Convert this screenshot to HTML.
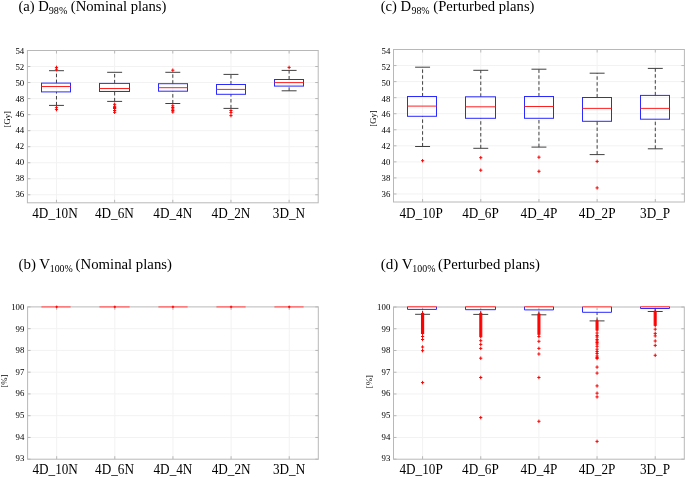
<!DOCTYPE html>
<html><head><meta charset="utf-8"><style>
html,body{margin:0;padding:0;background:#fff;}
svg{display:block;}
text{font-family:"Liberation Serif", serif;fill:#000;filter:grayscale(1);}
</style></head><body>
<svg width="685" height="477" viewBox="0 0 685 477" stroke-width="1">
<rect width="685" height="477" fill="#fff"/>
<line x1="27.4" y1="194.78" x2="318.2" y2="194.78" stroke="#f2f2f2"/>
<line x1="27.4" y1="178.75" x2="318.2" y2="178.75" stroke="#f2f2f2"/>
<line x1="27.4" y1="162.72" x2="318.2" y2="162.72" stroke="#f2f2f2"/>
<line x1="27.4" y1="146.69" x2="318.2" y2="146.69" stroke="#f2f2f2"/>
<line x1="27.4" y1="130.66" x2="318.2" y2="130.66" stroke="#f2f2f2"/>
<line x1="27.4" y1="114.63" x2="318.2" y2="114.63" stroke="#f2f2f2"/>
<line x1="27.4" y1="98.59" x2="318.2" y2="98.59" stroke="#f2f2f2"/>
<line x1="27.4" y1="82.56" x2="318.2" y2="82.56" stroke="#f2f2f2"/>
<line x1="27.4" y1="66.53" x2="318.2" y2="66.53" stroke="#f2f2f2"/>
<line x1="56.48" y1="50.5" x2="56.48" y2="202.8" stroke="#f2f2f2"/>
<line x1="114.64" y1="50.5" x2="114.64" y2="202.8" stroke="#f2f2f2"/>
<line x1="172.80" y1="50.5" x2="172.80" y2="202.8" stroke="#f2f2f2"/>
<line x1="230.96" y1="50.5" x2="230.96" y2="202.8" stroke="#f2f2f2"/>
<line x1="289.12" y1="50.5" x2="289.12" y2="202.8" stroke="#f2f2f2"/>
<path d="M27.4,194.78h3M318.2,194.78h-3" stroke="#b8b8b8"/>
<path d="M27.4,178.75h3M318.2,178.75h-3" stroke="#b8b8b8"/>
<path d="M27.4,162.72h3M318.2,162.72h-3" stroke="#b8b8b8"/>
<path d="M27.4,146.69h3M318.2,146.69h-3" stroke="#b8b8b8"/>
<path d="M27.4,130.66h3M318.2,130.66h-3" stroke="#b8b8b8"/>
<path d="M27.4,114.63h3M318.2,114.63h-3" stroke="#b8b8b8"/>
<path d="M27.4,98.59h3M318.2,98.59h-3" stroke="#b8b8b8"/>
<path d="M27.4,82.56h3M318.2,82.56h-3" stroke="#b8b8b8"/>
<path d="M27.4,66.53h3M318.2,66.53h-3" stroke="#b8b8b8"/>
<path d="M27.4,50.50h3M318.2,50.50h-3" stroke="#b8b8b8"/>
<path d="M56.48,202.8v-3M56.48,50.5v3" stroke="#b8b8b8"/>
<path d="M114.64,202.8v-3M114.64,50.5v3" stroke="#b8b8b8"/>
<path d="M172.80,202.8v-3M172.80,50.5v3" stroke="#b8b8b8"/>
<path d="M230.96,202.8v-3M230.96,50.5v3" stroke="#b8b8b8"/>
<path d="M289.12,202.8v-3M289.12,50.5v3" stroke="#b8b8b8"/>
<rect x="27.4" y="50.5" width="290.80" height="152.30" fill="none" stroke="#b8b8b8"/>
<text x="24.20" y="196.88" text-anchor="end" font-size="8.8">36</text>
<text x="24.20" y="180.99" text-anchor="end" font-size="8.8">38</text>
<text x="24.20" y="165.10" text-anchor="end" font-size="8.8">40</text>
<text x="24.20" y="149.21" text-anchor="end" font-size="8.8">42</text>
<text x="24.20" y="133.32" text-anchor="end" font-size="8.8">44</text>
<text x="24.20" y="117.44" text-anchor="end" font-size="8.8">46</text>
<text x="24.20" y="101.55" text-anchor="end" font-size="8.8">48</text>
<text x="24.20" y="85.66" text-anchor="end" font-size="8.8">50</text>
<text x="24.20" y="69.77" text-anchor="end" font-size="8.8">52</text>
<text x="24.20" y="53.88" text-anchor="end" font-size="8.8">54</text>
<text transform="translate(54.98,217.60) scale(1,1.045)" text-anchor="middle" font-size="13.2">4D_10N</text>
<text transform="translate(114.34,217.60) scale(1,1.045)" text-anchor="middle" font-size="13.2">4D_6N</text>
<text transform="translate(172.80,217.60) scale(1,1.045)" text-anchor="middle" font-size="13.2">4D_4N</text>
<text transform="translate(230.96,217.60) scale(1,1.045)" text-anchor="middle" font-size="13.2">4D_2N</text>
<text transform="translate(288.92,217.60) scale(1,1.045)" text-anchor="middle" font-size="13.2">3D_N</text>
<text x="0" y="0" transform="translate(9.5,119.3) rotate(-90)" text-anchor="middle" font-size="8.7">[Gy]</text>
<path d="M56.48,83.10V70.70" stroke="#404040" stroke-dasharray="3.5 2.4" fill="none"/>
<path d="M56.48,105.40V91.90" stroke="#404040" stroke-dasharray="3.5 2.4" fill="none"/>
<path d="M49.01,70.70h14.94M49.01,105.40h14.94" stroke="#404040"/>
<rect x="41.50" y="83.10" width="29.00" height="8.80" fill="none" stroke="#2a2aff"/>
<line x1="41.50" y1="86.50" x2="70.50" y2="86.50" stroke="#ff2020"/>
<path d="M54.88,67.40h3.20M56.48,65.70v3.40M54.88,69.20h3.20M56.48,67.50v3.40M54.88,107.70h3.20M56.48,106.00v3.40M54.88,109.60h3.20M56.48,107.90v3.40" stroke="#ff0000"/>
<path d="M114.64,83.40V72.30" stroke="#404040" stroke-dasharray="3.5 2.4" fill="none"/>
<path d="M114.64,101.40V91.50" stroke="#404040" stroke-dasharray="3.5 2.4" fill="none"/>
<path d="M107.17,72.30h14.94M107.17,101.40h14.94" stroke="#404040"/>
<rect x="99.50" y="83.40" width="30.00" height="8.10" fill="none" stroke="#2a2aff"/>
<line x1="99.50" y1="88.50" x2="129.50" y2="88.50" stroke="#ff2020"/>
<path d="M113.04,104.30h3.20M114.64,102.60v3.40M113.04,106.30h3.20M114.64,104.60v3.40M113.04,107.50h3.20M114.64,105.80v3.40M113.04,108.50h3.20M114.64,106.80v3.40M113.04,110.50h3.20M114.64,108.80v3.40M113.04,112.30h3.20M114.64,110.60v3.40" stroke="#ff0000"/>
<path d="M172.80,83.70V72.30" stroke="#404040" stroke-dasharray="3.5 2.4" fill="none"/>
<path d="M172.80,103.50V91.20" stroke="#404040" stroke-dasharray="3.5 2.4" fill="none"/>
<path d="M165.33,72.30h14.94M165.33,103.50h14.94" stroke="#404040"/>
<rect x="158.50" y="83.70" width="29.00" height="7.50" fill="none" stroke="#2a2aff"/>
<line x1="158.50" y1="87.70" x2="187.50" y2="87.70" stroke="#ff2020"/>
<path d="M171.20,70.20h3.20M172.80,68.50v3.40M171.20,105.80h3.20M172.80,104.10v3.40M171.20,107.50h3.20M172.80,105.80v3.40M171.20,109.00h3.20M172.80,107.30v3.40M171.20,110.50h3.20M172.80,108.80v3.40M171.20,112.00h3.20M172.80,110.30v3.40" stroke="#ff0000"/>
<path d="M230.96,84.50V74.40" stroke="#404040" stroke-dasharray="3.5 2.4" fill="none"/>
<path d="M230.96,108.40V94.30" stroke="#404040" stroke-dasharray="3.5 2.4" fill="none"/>
<path d="M223.49,74.40h14.94M223.49,108.40h14.94" stroke="#404040"/>
<rect x="216.50" y="84.50" width="29.00" height="9.80" fill="none" stroke="#2a2aff"/>
<line x1="216.50" y1="89.40" x2="245.50" y2="89.40" stroke="#ff2020"/>
<path d="M229.36,110.50h3.20M230.96,108.80v3.40M229.36,112.60h3.20M230.96,110.90v3.40M229.36,115.60h3.20M230.96,113.90v3.40" stroke="#ff0000"/>
<path d="M289.12,79.50V70.40" stroke="#404040" stroke-dasharray="3.5 2.4" fill="none"/>
<path d="M289.12,90.80V86.10" stroke="#404040" stroke-dasharray="3.5 2.4" fill="none"/>
<path d="M281.65,70.40h14.94M281.65,90.80h14.94" stroke="#404040"/>
<rect x="274.50" y="79.50" width="29.00" height="6.60" fill="none" stroke="#2a2aff"/>
<line x1="274.50" y1="82.60" x2="303.50" y2="82.60" stroke="#ff2020"/>
<path d="M287.52,67.40h3.20M289.12,65.70v3.40" stroke="#ff0000"/>
<text x="18.44" y="10.90" font-size="14.4" textLength="30.44" lengthAdjust="spacingAndGlyphs">(a) D</text>
<text x="48.77" y="13.70" font-size="9.5" textLength="18.56" lengthAdjust="spacingAndGlyphs">98%</text>
<text x="70.84" y="10.90" font-size="14.4" textLength="95.60" lengthAdjust="spacingAndGlyphs">(Nominal plans)</text>
<line x1="393.5" y1="193.97" x2="684.4" y2="193.97" stroke="#f2f2f2"/>
<line x1="393.5" y1="177.92" x2="684.4" y2="177.92" stroke="#f2f2f2"/>
<line x1="393.5" y1="161.87" x2="684.4" y2="161.87" stroke="#f2f2f2"/>
<line x1="393.5" y1="145.82" x2="684.4" y2="145.82" stroke="#f2f2f2"/>
<line x1="393.5" y1="129.76" x2="684.4" y2="129.76" stroke="#f2f2f2"/>
<line x1="393.5" y1="113.71" x2="684.4" y2="113.71" stroke="#f2f2f2"/>
<line x1="393.5" y1="97.66" x2="684.4" y2="97.66" stroke="#f2f2f2"/>
<line x1="393.5" y1="81.61" x2="684.4" y2="81.61" stroke="#f2f2f2"/>
<line x1="393.5" y1="65.55" x2="684.4" y2="65.55" stroke="#f2f2f2"/>
<line x1="422.59" y1="49.5" x2="422.59" y2="202.0" stroke="#f2f2f2"/>
<line x1="480.77" y1="49.5" x2="480.77" y2="202.0" stroke="#f2f2f2"/>
<line x1="538.95" y1="49.5" x2="538.95" y2="202.0" stroke="#f2f2f2"/>
<line x1="597.13" y1="49.5" x2="597.13" y2="202.0" stroke="#f2f2f2"/>
<line x1="655.31" y1="49.5" x2="655.31" y2="202.0" stroke="#f2f2f2"/>
<path d="M393.5,193.97h3M684.4,193.97h-3" stroke="#b8b8b8"/>
<path d="M393.5,177.92h3M684.4,177.92h-3" stroke="#b8b8b8"/>
<path d="M393.5,161.87h3M684.4,161.87h-3" stroke="#b8b8b8"/>
<path d="M393.5,145.82h3M684.4,145.82h-3" stroke="#b8b8b8"/>
<path d="M393.5,129.76h3M684.4,129.76h-3" stroke="#b8b8b8"/>
<path d="M393.5,113.71h3M684.4,113.71h-3" stroke="#b8b8b8"/>
<path d="M393.5,97.66h3M684.4,97.66h-3" stroke="#b8b8b8"/>
<path d="M393.5,81.61h3M684.4,81.61h-3" stroke="#b8b8b8"/>
<path d="M393.5,65.55h3M684.4,65.55h-3" stroke="#b8b8b8"/>
<path d="M393.5,49.50h3M684.4,49.50h-3" stroke="#b8b8b8"/>
<path d="M422.59,202.0v-3M422.59,49.5v3" stroke="#b8b8b8"/>
<path d="M480.77,202.0v-3M480.77,49.5v3" stroke="#b8b8b8"/>
<path d="M538.95,202.0v-3M538.95,49.5v3" stroke="#b8b8b8"/>
<path d="M597.13,202.0v-3M597.13,49.5v3" stroke="#b8b8b8"/>
<path d="M655.31,202.0v-3M655.31,49.5v3" stroke="#b8b8b8"/>
<rect x="393.5" y="49.5" width="290.90" height="152.50" fill="none" stroke="#b8b8b8"/>
<text x="390.30" y="196.88" text-anchor="end" font-size="8.8">36</text>
<text x="390.30" y="180.99" text-anchor="end" font-size="8.8">38</text>
<text x="390.30" y="165.10" text-anchor="end" font-size="8.8">40</text>
<text x="390.30" y="149.21" text-anchor="end" font-size="8.8">42</text>
<text x="390.30" y="133.32" text-anchor="end" font-size="8.8">44</text>
<text x="390.30" y="117.44" text-anchor="end" font-size="8.8">46</text>
<text x="390.30" y="101.55" text-anchor="end" font-size="8.8">48</text>
<text x="390.30" y="85.66" text-anchor="end" font-size="8.8">50</text>
<text x="390.30" y="69.77" text-anchor="end" font-size="8.8">52</text>
<text x="390.30" y="53.88" text-anchor="end" font-size="8.8">54</text>
<text transform="translate(421.09,217.60) scale(1,1.045)" text-anchor="middle" font-size="13.2">4D_10P</text>
<text transform="translate(480.47,217.60) scale(1,1.045)" text-anchor="middle" font-size="13.2">4D_6P</text>
<text transform="translate(538.95,217.60) scale(1,1.045)" text-anchor="middle" font-size="13.2">4D_4P</text>
<text transform="translate(597.13,217.60) scale(1,1.045)" text-anchor="middle" font-size="13.2">4D_2P</text>
<text transform="translate(655.11,217.60) scale(1,1.045)" text-anchor="middle" font-size="13.2">3D_P</text>
<text x="0" y="0" transform="translate(376,118.5) rotate(-90)" text-anchor="middle" font-size="8.7">[Gy]</text>
<path d="M422.59,96.50V67.20" stroke="#404040" stroke-dasharray="3.5 2.4" fill="none"/>
<path d="M422.59,146.50V116.30" stroke="#404040" stroke-dasharray="3.5 2.4" fill="none"/>
<path d="M415.12,67.20h14.94M415.12,146.50h14.94" stroke="#404040"/>
<rect x="407.50" y="96.50" width="29.00" height="19.80" fill="none" stroke="#2a2aff"/>
<line x1="407.50" y1="106.10" x2="436.50" y2="106.10" stroke="#ff2020"/>
<path d="M420.99,160.70h3.20M422.59,159.00v3.40" stroke="#ff0000"/>
<path d="M480.77,96.80V70.30" stroke="#404040" stroke-dasharray="3.5 2.4" fill="none"/>
<path d="M480.77,148.30V118.30" stroke="#404040" stroke-dasharray="3.5 2.4" fill="none"/>
<path d="M473.30,70.30h14.94M473.30,148.30h14.94" stroke="#404040"/>
<rect x="465.50" y="96.80" width="30.00" height="21.50" fill="none" stroke="#2a2aff"/>
<line x1="465.50" y1="106.80" x2="495.50" y2="106.80" stroke="#ff2020"/>
<path d="M479.17,157.70h3.20M480.77,156.00v3.40M479.17,170.20h3.20M480.77,168.50v3.40" stroke="#ff0000"/>
<path d="M538.95,96.50V69.20" stroke="#404040" stroke-dasharray="3.5 2.4" fill="none"/>
<path d="M538.95,147.10V118.30" stroke="#404040" stroke-dasharray="3.5 2.4" fill="none"/>
<path d="M531.48,69.20h14.94M531.48,147.10h14.94" stroke="#404040"/>
<rect x="524.50" y="96.50" width="29.00" height="21.80" fill="none" stroke="#2a2aff"/>
<line x1="524.50" y1="106.50" x2="553.50" y2="106.50" stroke="#ff2020"/>
<path d="M537.35,157.20h3.20M538.95,155.50v3.40M537.35,171.30h3.20M538.95,169.60v3.40" stroke="#ff0000"/>
<path d="M597.13,97.50V73.20" stroke="#404040" stroke-dasharray="3.5 2.4" fill="none"/>
<path d="M597.13,154.60V121.30" stroke="#404040" stroke-dasharray="3.5 2.4" fill="none"/>
<path d="M589.66,73.20h14.94M589.66,154.60h14.94" stroke="#404040"/>
<rect x="582.50" y="97.50" width="29.00" height="23.80" fill="none" stroke="#2a2aff"/>
<line x1="582.50" y1="108.40" x2="611.50" y2="108.40" stroke="#ff2020"/>
<path d="M595.53,161.40h3.20M597.13,159.70v3.40M595.53,187.90h3.20M597.13,186.20v3.40" stroke="#ff0000"/>
<path d="M655.31,95.40V68.40" stroke="#404040" stroke-dasharray="3.5 2.4" fill="none"/>
<path d="M655.31,148.80V119.20" stroke="#404040" stroke-dasharray="3.5 2.4" fill="none"/>
<path d="M647.84,68.40h14.94M647.84,148.80h14.94" stroke="#404040"/>
<rect x="640.50" y="95.40" width="29.00" height="23.80" fill="none" stroke="#2a2aff"/>
<line x1="640.50" y1="108.40" x2="669.50" y2="108.40" stroke="#ff2020"/>
<text x="380.74" y="10.90" font-size="14.4" textLength="30.44" lengthAdjust="spacingAndGlyphs">(c) D</text>
<text x="411.48" y="13.70" font-size="9.5" textLength="18.15" lengthAdjust="spacingAndGlyphs">98%</text>
<text x="433.34" y="10.90" font-size="14.4" textLength="101.18" lengthAdjust="spacingAndGlyphs">(Perturbed plans)</text>
<line x1="27.6" y1="437.44" x2="318.3" y2="437.44" stroke="#f2f2f2"/>
<line x1="27.6" y1="415.69" x2="318.3" y2="415.69" stroke="#f2f2f2"/>
<line x1="27.6" y1="393.93" x2="318.3" y2="393.93" stroke="#f2f2f2"/>
<line x1="27.6" y1="372.17" x2="318.3" y2="372.17" stroke="#f2f2f2"/>
<line x1="27.6" y1="350.41" x2="318.3" y2="350.41" stroke="#f2f2f2"/>
<line x1="27.6" y1="328.66" x2="318.3" y2="328.66" stroke="#f2f2f2"/>
<line x1="56.67" y1="306.9" x2="56.67" y2="459.2" stroke="#f2f2f2"/>
<line x1="114.81" y1="306.9" x2="114.81" y2="459.2" stroke="#f2f2f2"/>
<line x1="172.95" y1="306.9" x2="172.95" y2="459.2" stroke="#f2f2f2"/>
<line x1="231.09" y1="306.9" x2="231.09" y2="459.2" stroke="#f2f2f2"/>
<line x1="289.23" y1="306.9" x2="289.23" y2="459.2" stroke="#f2f2f2"/>
<path d="M27.6,459.20h3M318.3,459.20h-3" stroke="#b8b8b8"/>
<path d="M27.6,437.44h3M318.3,437.44h-3" stroke="#b8b8b8"/>
<path d="M27.6,415.69h3M318.3,415.69h-3" stroke="#b8b8b8"/>
<path d="M27.6,393.93h3M318.3,393.93h-3" stroke="#b8b8b8"/>
<path d="M27.6,372.17h3M318.3,372.17h-3" stroke="#b8b8b8"/>
<path d="M27.6,350.41h3M318.3,350.41h-3" stroke="#b8b8b8"/>
<path d="M27.6,328.66h3M318.3,328.66h-3" stroke="#b8b8b8"/>
<path d="M27.6,306.90h3M318.3,306.90h-3" stroke="#b8b8b8"/>
<path d="M56.67,459.2v-3M56.67,306.9v3" stroke="#b8b8b8"/>
<path d="M114.81,459.2v-3M114.81,306.9v3" stroke="#b8b8b8"/>
<path d="M172.95,459.2v-3M172.95,306.9v3" stroke="#b8b8b8"/>
<path d="M231.09,459.2v-3M231.09,306.9v3" stroke="#b8b8b8"/>
<path d="M289.23,459.2v-3M289.23,306.9v3" stroke="#b8b8b8"/>
<rect x="27.6" y="306.9" width="290.70" height="152.30" fill="none" stroke="#b8b8b8"/>
<text x="24.40" y="461.18" text-anchor="end" font-size="8.8">93</text>
<text x="24.40" y="439.59" text-anchor="end" font-size="8.8">94</text>
<text x="24.40" y="418.01" text-anchor="end" font-size="8.8">95</text>
<text x="24.40" y="396.42" text-anchor="end" font-size="8.8">96</text>
<text x="24.40" y="374.84" text-anchor="end" font-size="8.8">97</text>
<text x="24.40" y="353.25" text-anchor="end" font-size="8.8">98</text>
<text x="24.40" y="331.67" text-anchor="end" font-size="8.8">99</text>
<text x="24.40" y="310.08" text-anchor="end" font-size="8.8">100</text>
<text transform="translate(55.17,474.00) scale(1,1.045)" text-anchor="middle" font-size="13.2">4D_10N</text>
<text transform="translate(114.51,474.00) scale(1,1.045)" text-anchor="middle" font-size="13.2">4D_6N</text>
<text transform="translate(172.95,474.00) scale(1,1.045)" text-anchor="middle" font-size="13.2">4D_4N</text>
<text transform="translate(231.09,474.00) scale(1,1.045)" text-anchor="middle" font-size="13.2">4D_2N</text>
<text transform="translate(289.03,474.00) scale(1,1.045)" text-anchor="middle" font-size="13.2">3D_N</text>
<text x="0" y="0" transform="translate(7.2,381.1) rotate(-90)" text-anchor="middle" font-size="8.7">[%]</text>
<line x1="42.10" y1="306.90" x2="69.90" y2="306.90" stroke="#fff" stroke-width="1.4"/>
<line x1="41.50" y1="306.90" x2="70.50" y2="306.90" stroke="#ff3c3c" stroke-width="1.1"/>
<path d="M55.47,306.90h2.40M56.67,305.60v2.60" stroke="#ff0000"/>
<line x1="100.10" y1="306.90" x2="128.90" y2="306.90" stroke="#fff" stroke-width="1.4"/>
<line x1="99.50" y1="306.90" x2="129.50" y2="306.90" stroke="#ff3c3c" stroke-width="1.1"/>
<path d="M113.61,306.90h2.40M114.81,305.60v2.60" stroke="#ff0000"/>
<line x1="159.10" y1="306.90" x2="186.90" y2="306.90" stroke="#fff" stroke-width="1.4"/>
<line x1="158.50" y1="306.90" x2="187.50" y2="306.90" stroke="#ff3c3c" stroke-width="1.1"/>
<path d="M171.75,306.90h2.40M172.95,305.60v2.60" stroke="#ff0000"/>
<line x1="217.10" y1="306.90" x2="244.90" y2="306.90" stroke="#fff" stroke-width="1.4"/>
<line x1="216.50" y1="306.90" x2="245.50" y2="306.90" stroke="#ff3c3c" stroke-width="1.1"/>
<path d="M229.89,306.90h2.40M231.09,305.60v2.60" stroke="#ff0000"/>
<line x1="275.10" y1="306.90" x2="302.90" y2="306.90" stroke="#fff" stroke-width="1.4"/>
<line x1="274.50" y1="306.90" x2="303.50" y2="306.90" stroke="#ff3c3c" stroke-width="1.1"/>
<path d="M288.03,306.90h2.40M289.23,305.60v2.60" stroke="#ff0000"/>
<text x="18.43" y="269.20" font-size="14.4" textLength="31.76" lengthAdjust="spacingAndGlyphs">(b) V</text>
<text x="49.73" y="272.20" font-size="9.5" textLength="23.09" lengthAdjust="spacingAndGlyphs">100%</text>
<text x="75.64" y="269.20" font-size="14.4" textLength="96.31" lengthAdjust="spacingAndGlyphs">(Nominal plans)</text>
<line x1="393.5" y1="437.46" x2="684.3" y2="437.46" stroke="#f2f2f2"/>
<line x1="393.5" y1="415.71" x2="684.3" y2="415.71" stroke="#f2f2f2"/>
<line x1="393.5" y1="393.97" x2="684.3" y2="393.97" stroke="#f2f2f2"/>
<line x1="393.5" y1="372.23" x2="684.3" y2="372.23" stroke="#f2f2f2"/>
<line x1="393.5" y1="350.49" x2="684.3" y2="350.49" stroke="#f2f2f2"/>
<line x1="393.5" y1="328.74" x2="684.3" y2="328.74" stroke="#f2f2f2"/>
<line x1="422.58" y1="307.0" x2="422.58" y2="459.2" stroke="#f2f2f2"/>
<line x1="480.74" y1="307.0" x2="480.74" y2="459.2" stroke="#f2f2f2"/>
<line x1="538.90" y1="307.0" x2="538.90" y2="459.2" stroke="#f2f2f2"/>
<line x1="597.06" y1="307.0" x2="597.06" y2="459.2" stroke="#f2f2f2"/>
<line x1="655.22" y1="307.0" x2="655.22" y2="459.2" stroke="#f2f2f2"/>
<path d="M393.5,459.20h3M684.3,459.20h-3" stroke="#b8b8b8"/>
<path d="M393.5,437.46h3M684.3,437.46h-3" stroke="#b8b8b8"/>
<path d="M393.5,415.71h3M684.3,415.71h-3" stroke="#b8b8b8"/>
<path d="M393.5,393.97h3M684.3,393.97h-3" stroke="#b8b8b8"/>
<path d="M393.5,372.23h3M684.3,372.23h-3" stroke="#b8b8b8"/>
<path d="M393.5,350.49h3M684.3,350.49h-3" stroke="#b8b8b8"/>
<path d="M393.5,328.74h3M684.3,328.74h-3" stroke="#b8b8b8"/>
<path d="M393.5,307.00h3M684.3,307.00h-3" stroke="#b8b8b8"/>
<path d="M422.58,459.2v-3M422.58,307.0v3" stroke="#b8b8b8"/>
<path d="M480.74,459.2v-3M480.74,307.0v3" stroke="#b8b8b8"/>
<path d="M538.90,459.2v-3M538.90,307.0v3" stroke="#b8b8b8"/>
<path d="M597.06,459.2v-3M597.06,307.0v3" stroke="#b8b8b8"/>
<path d="M655.22,459.2v-3M655.22,307.0v3" stroke="#b8b8b8"/>
<rect x="393.5" y="307.0" width="290.80" height="152.20" fill="none" stroke="#b8b8b8"/>
<text x="390.30" y="461.18" text-anchor="end" font-size="8.8">93</text>
<text x="390.30" y="439.59" text-anchor="end" font-size="8.8">94</text>
<text x="390.30" y="418.01" text-anchor="end" font-size="8.8">95</text>
<text x="390.30" y="396.42" text-anchor="end" font-size="8.8">96</text>
<text x="390.30" y="374.84" text-anchor="end" font-size="8.8">97</text>
<text x="390.30" y="353.25" text-anchor="end" font-size="8.8">98</text>
<text x="390.30" y="331.67" text-anchor="end" font-size="8.8">99</text>
<text x="390.30" y="310.08" text-anchor="end" font-size="8.8">100</text>
<text transform="translate(421.08,474.00) scale(1,1.045)" text-anchor="middle" font-size="13.2">4D_10P</text>
<text transform="translate(480.44,474.00) scale(1,1.045)" text-anchor="middle" font-size="13.2">4D_6P</text>
<text transform="translate(538.90,474.00) scale(1,1.045)" text-anchor="middle" font-size="13.2">4D_4P</text>
<text transform="translate(597.06,474.00) scale(1,1.045)" text-anchor="middle" font-size="13.2">4D_2P</text>
<text transform="translate(655.02,474.00) scale(1,1.045)" text-anchor="middle" font-size="13.2">3D_P</text>
<text x="0" y="0" transform="translate(372,381.7) rotate(-90)" text-anchor="middle" font-size="8.7">[%]</text>
<path d="M422.58,314.30V309.40" stroke="#404040" stroke-dasharray="3.5 2.4" fill="none"/>
<path d="M415.11,314.30h14.94" stroke="#404040"/>
<path d="M407.50,306.70V309.40H436.50V306.70" fill="none" stroke="#2a2aff" stroke-linejoin="round"/>
<line x1="408.10" y1="306.70" x2="435.90" y2="306.70" stroke="#fff" stroke-width="1.4"/>
<line x1="407.50" y1="306.70" x2="436.50" y2="306.70" stroke="#ff3c3c" stroke-width="1.1"/>
<path d="M420.98,313.50h3.20M422.58,311.80v3.40M420.98,314.50h3.20M422.58,312.80v3.40M420.98,315.50h3.20M422.58,313.80v3.40M420.98,316.50h3.20M422.58,314.80v3.40M420.98,317.50h3.20M422.58,315.80v3.40M420.98,318.50h3.20M422.58,316.80v3.40M420.98,319.50h3.20M422.58,317.80v3.40M420.98,320.50h3.20M422.58,318.80v3.40M420.98,321.50h3.20M422.58,319.80v3.40M420.98,322.50h3.20M422.58,320.80v3.40M420.98,323.50h3.20M422.58,321.80v3.40M420.98,324.50h3.20M422.58,322.80v3.40M420.98,325.50h3.20M422.58,323.80v3.40M420.98,326.50h3.20M422.58,324.80v3.40M420.98,327.50h3.20M422.58,325.80v3.40M420.98,328.50h3.20M422.58,326.80v3.40M420.98,329.50h3.20M422.58,327.80v3.40M420.98,330.50h3.20M422.58,328.80v3.40M420.98,331.50h3.20M422.58,329.80v3.40M420.98,332.50h3.20M422.58,330.80v3.40M420.98,333.50h3.20M422.58,331.80v3.40M420.98,336.50h3.20M422.58,334.80v3.40M420.98,339.50h3.20M422.58,337.80v3.40M420.98,347.00h3.20M422.58,345.30v3.40M420.98,350.70h3.20M422.58,349.00v3.40M420.98,382.60h3.20M422.58,380.90v3.40" stroke="#ff0000"/>
<path d="M480.74,314.40V309.70" stroke="#404040" stroke-dasharray="3.5 2.4" fill="none"/>
<path d="M473.27,314.40h14.94" stroke="#404040"/>
<path d="M465.50,306.70V309.70H495.50V306.70" fill="none" stroke="#2a2aff" stroke-linejoin="round"/>
<line x1="466.10" y1="306.70" x2="494.90" y2="306.70" stroke="#fff" stroke-width="1.4"/>
<line x1="465.50" y1="306.70" x2="495.50" y2="306.70" stroke="#ff3c3c" stroke-width="1.1"/>
<path d="M479.14,313.70h3.20M480.74,312.00v3.40M479.14,314.70h3.20M480.74,313.00v3.40M479.14,315.70h3.20M480.74,314.00v3.40M479.14,316.70h3.20M480.74,315.00v3.40M479.14,317.70h3.20M480.74,316.00v3.40M479.14,318.70h3.20M480.74,317.00v3.40M479.14,319.70h3.20M480.74,318.00v3.40M479.14,320.70h3.20M480.74,319.00v3.40M479.14,321.70h3.20M480.74,320.00v3.40M479.14,322.70h3.20M480.74,321.00v3.40M479.14,323.70h3.20M480.74,322.00v3.40M479.14,324.70h3.20M480.74,323.00v3.40M479.14,325.70h3.20M480.74,324.00v3.40M479.14,326.70h3.20M480.74,325.00v3.40M479.14,327.70h3.20M480.74,326.00v3.40M479.14,328.70h3.20M480.74,327.00v3.40M479.14,329.70h3.20M480.74,328.00v3.40M479.14,330.70h3.20M480.74,329.00v3.40M479.14,331.70h3.20M480.74,330.00v3.40M479.14,332.70h3.20M480.74,331.00v3.40M479.14,333.70h3.20M480.74,332.00v3.40M479.14,334.70h3.20M480.74,333.00v3.40M479.14,335.70h3.20M480.74,334.00v3.40M479.14,336.70h3.20M480.74,335.00v3.40M479.14,340.70h3.20M480.74,339.00v3.40M479.14,344.40h3.20M480.74,342.70v3.40M479.14,348.40h3.20M480.74,346.70v3.40M479.14,358.20h3.20M480.74,356.50v3.40M479.14,377.50h3.20M480.74,375.80v3.40M479.14,417.60h3.20M480.74,415.90v3.40" stroke="#ff0000"/>
<path d="M538.90,314.80V309.90" stroke="#404040" stroke-dasharray="3.5 2.4" fill="none"/>
<path d="M531.43,314.80h14.94" stroke="#404040"/>
<path d="M524.50,306.70V309.90H553.50V306.70" fill="none" stroke="#2a2aff" stroke-linejoin="round"/>
<line x1="525.10" y1="306.70" x2="552.90" y2="306.70" stroke="#fff" stroke-width="1.4"/>
<line x1="524.50" y1="306.70" x2="553.50" y2="306.70" stroke="#ff3c3c" stroke-width="1.1"/>
<path d="M537.30,314.20h3.20M538.90,312.50v3.40M537.30,315.20h3.20M538.90,313.50v3.40M537.30,316.20h3.20M538.90,314.50v3.40M537.30,317.20h3.20M538.90,315.50v3.40M537.30,318.20h3.20M538.90,316.50v3.40M537.30,319.20h3.20M538.90,317.50v3.40M537.30,320.20h3.20M538.90,318.50v3.40M537.30,321.20h3.20M538.90,319.50v3.40M537.30,322.20h3.20M538.90,320.50v3.40M537.30,323.20h3.20M538.90,321.50v3.40M537.30,324.20h3.20M538.90,322.50v3.40M537.30,325.20h3.20M538.90,323.50v3.40M537.30,326.20h3.20M538.90,324.50v3.40M537.30,327.20h3.20M538.90,325.50v3.40M537.30,328.20h3.20M538.90,326.50v3.40M537.30,329.20h3.20M538.90,327.50v3.40M537.30,330.20h3.20M538.90,328.50v3.40M537.30,331.20h3.20M538.90,329.50v3.40M537.30,332.20h3.20M538.90,330.50v3.40M537.30,333.20h3.20M538.90,331.50v3.40M537.30,334.20h3.20M538.90,332.50v3.40M537.30,336.60h3.20M538.90,334.90v3.40M537.30,341.30h3.20M538.90,339.60v3.40M537.30,348.40h3.20M538.90,346.70v3.40M537.30,354.00h3.20M538.90,352.30v3.40M537.30,377.50h3.20M538.90,375.80v3.40M537.30,421.30h3.20M538.90,419.60v3.40" stroke="#ff0000"/>
<path d="M597.06,320.90V312.30" stroke="#404040" stroke-dasharray="3.5 2.4" fill="none"/>
<path d="M589.59,320.90h14.94" stroke="#404040"/>
<path d="M582.50,306.80V312.30H611.50V306.80" fill="none" stroke="#2a2aff" stroke-linejoin="round"/>
<line x1="583.10" y1="306.80" x2="610.90" y2="306.80" stroke="#fff" stroke-width="1.4"/>
<line x1="582.50" y1="306.80" x2="611.50" y2="306.80" stroke="#ff3c3c" stroke-width="1.1"/>
<path d="M595.46,321.00h3.20M597.06,319.30v3.40M595.46,322.00h3.20M597.06,320.30v3.40M595.46,323.00h3.20M597.06,321.30v3.40M595.46,324.00h3.20M597.06,322.30v3.40M595.46,325.00h3.20M597.06,323.30v3.40M595.46,326.00h3.20M597.06,324.30v3.40M595.46,327.00h3.20M597.06,325.30v3.40M595.46,328.00h3.20M597.06,326.30v3.40M595.46,329.00h3.20M597.06,327.30v3.40M595.46,330.00h3.20M597.06,328.30v3.40M595.46,333.00h3.20M597.06,331.30v3.40M595.46,335.50h3.20M597.06,333.80v3.40M595.46,337.00h3.20M597.06,335.30v3.40M595.46,339.50h3.20M597.06,337.80v3.40M595.46,341.00h3.20M597.06,339.30v3.40M595.46,342.50h3.20M597.06,340.80v3.40M595.46,344.00h3.20M597.06,342.30v3.40M595.46,346.30h3.20M597.06,344.60v3.40M595.46,349.20h3.20M597.06,347.50v3.40M595.46,351.50h3.20M597.06,349.80v3.40M595.46,353.50h3.20M597.06,351.80v3.40M595.46,356.00h3.20M597.06,354.30v3.40M595.46,357.50h3.20M597.06,355.80v3.40M595.46,358.50h3.20M597.06,356.80v3.40M595.46,367.10h3.20M597.06,365.40v3.40M595.46,373.10h3.20M597.06,371.40v3.40M595.46,385.90h3.20M597.06,384.20v3.40M595.46,393.20h3.20M597.06,391.50v3.40M595.46,396.90h3.20M597.06,395.20v3.40M595.46,441.40h3.20M597.06,439.70v3.40" stroke="#ff0000"/>
<path d="M655.22,311.50V308.50" stroke="#404040" stroke-dasharray="3.5 2.4" fill="none"/>
<path d="M647.75,311.50h14.94" stroke="#404040"/>
<path d="M640.50,306.70V308.50H669.50V306.70" fill="none" stroke="#2a2aff" stroke-linejoin="round"/>
<line x1="641.10" y1="306.70" x2="668.90" y2="306.70" stroke="#fff" stroke-width="1.4"/>
<line x1="640.50" y1="306.70" x2="669.50" y2="306.70" stroke="#ff3c3c" stroke-width="1.1"/>
<path d="M653.62,311.30h3.20M655.22,309.60v3.40M653.62,312.30h3.20M655.22,310.60v3.40M653.62,313.30h3.20M655.22,311.60v3.40M653.62,314.30h3.20M655.22,312.60v3.40M653.62,315.30h3.20M655.22,313.60v3.40M653.62,316.30h3.20M655.22,314.60v3.40M653.62,317.30h3.20M655.22,315.60v3.40M653.62,318.30h3.20M655.22,316.60v3.40M653.62,319.30h3.20M655.22,317.60v3.40M653.62,320.30h3.20M655.22,318.60v3.40M653.62,321.30h3.20M655.22,319.60v3.40M653.62,322.30h3.20M655.22,320.60v3.40M653.62,323.30h3.20M655.22,321.60v3.40M653.62,324.30h3.20M655.22,322.60v3.40M653.62,325.30h3.20M655.22,323.60v3.40M653.62,329.20h3.20M655.22,327.50v3.40M653.62,333.40h3.20M655.22,331.70v3.40M653.62,335.90h3.20M655.22,334.20v3.40M653.62,341.00h3.20M655.22,339.30v3.40M653.62,345.40h3.20M655.22,343.70v3.40M653.62,355.30h3.20M655.22,353.60v3.40" stroke="#ff0000"/>
<text x="380.72" y="269.20" font-size="14.4" textLength="32.07" lengthAdjust="spacingAndGlyphs">(d) V</text>
<text x="412.33" y="272.20" font-size="9.5" textLength="23.09" lengthAdjust="spacingAndGlyphs">100%</text>
<text x="438.04" y="269.20" font-size="14.4" textLength="101.99" lengthAdjust="spacingAndGlyphs">(Perturbed plans)</text>
</svg></body></html>
